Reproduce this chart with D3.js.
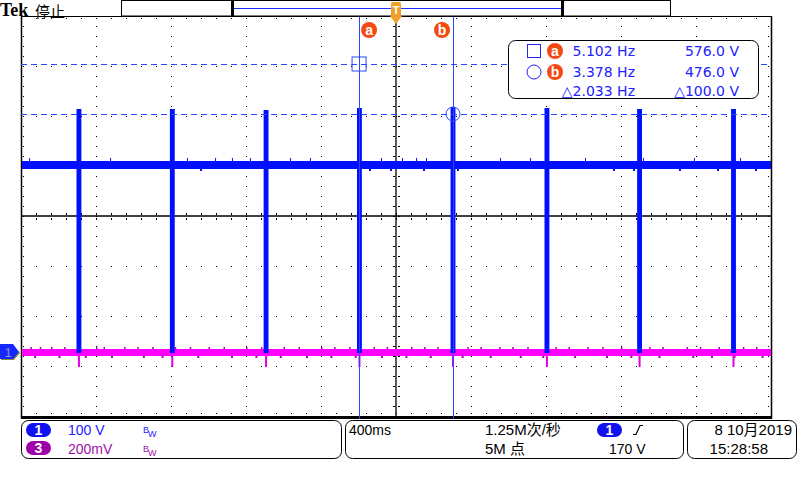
<!DOCTYPE html>
<html><head><meta charset="utf-8">
<script src="https://cdn.jsdelivr.net/npm/d3@7"></script>
<style>html,body{margin:0;padding:0;background:#fff;} svg{display:block;}</style>
</head><body>
<svg id="c" width="800" height="480"></svg>
<script>
// ---------------- DATA (read from the screen) ----------------
// time axis: 400 ms/div, 10 divisions, trigger at centre (s)
const timeDomain = [-2, 2];
// CH1: 100 V/div, ground marker 2.72 div below centre
const ch1Domain = [-128, 672];
// CH3: 200 mV/div, same ground level
const ch3Domain = [-0.256, 1.344];

// CH1 pulse bursts: time (s), top (V)
const spikeTimes = [-1.691, -1.193, -0.693, -0.195, 0.304, 0.805, 1.299, 1.800];
const spikeTops  = [486, 486, 484, 488, 490, 488, 486, 486];
const spikeWidth = 0.026;       // s
const ch1SpikeBottom = -2;      // V
const ch1Band = [366, 382];     // V (noise envelope)
const ch1GlitchUp = [-1.957, -1.525, -1.115, -0.965, -0.875, -0.779, -0.565, -0.459, -0.080, 0.032, 0.107, 0.160, 0.555, 0.715, 1.008, 1.317, 1.589, 1.835];
const ch1GlitchDown = [-1.045, -0.144, -0.032, 0.144, 0.325, 1.157, 1.264, 1.509, 1.712, 1.915];

// CH3 (magenta)
const ch3Band = [-0.016, 0.012];  // V
const ch3SpikeBottom = -0.06;     // V
const ch3GlitchUp = [-1.95,-1.90,-1.84,-1.77,-1.60,-1.56,-1.45,-1.38,-1.30,-1.18,-1.10,-1.00,-0.92,-0.80,-0.72,-0.60,-0.52,-0.40,-0.33,-0.25,-0.12,-0.05,0.08,0.15,0.22,0.38,0.45,0.55,0.62,0.70,0.85,0.92,1.02,1.10,1.20,1.35,1.42,1.55,1.62,1.72,1.85,1.92];
const ch3GlitchDown = [-1.93,-1.80,-1.66,-1.52,-1.35,-1.25,-1.06,-0.88,-0.75,-0.62,-0.48,-0.35,-0.22,-0.08,0.05,0.18,0.35,0.50,0.66,0.78,0.95,1.12,1.25,1.40,1.58,1.68,1.80,1.95];

// cursors
const cursorTimes = [-0.197, 0.304];
const cursorVolts = [576, 476];
const cursorNames = ["a", "b"];
const readFreq = ["5.102 Hz", "3.378 Hz", "\u25B32.033 Hz"];
const readVolt = ["576.0 V", "476.0 V", "\u25B3100.0 V"];

// status texts
const headerTexts = ["Tek", "停止"];
const ch1Label = ["1", "100 V"];
const ch3Label = ["3", "200mV"];
const timeTexts = ["400ms", "1.25M次/秒", "5M 点"];
const trigTexts = ["1", "170 V"];
const dateTexts = ["8 10月2019", "15:28:58"];

// ---------------- DRAW ----------------
const svg = d3.select('#c');
const X0 = 21, X1 = 771, Y0 = 16, Y1 = 416;
const x = d3.scaleLinear().domain(timeDomain).range([X0, X1]);
const gy = d3.scaleLinear().domain([-4, 4]).range([Y1, Y0]);
const gx = d3.scaleLinear().domain([-5, 5]).range([X0, X1]);
const y1 = d3.scaleLinear().domain(ch1Domain).range([Y1, Y0]);
const y3 = d3.scaleLinear().domain(ch3Domain).range([Y1, Y0]);
const SANS = "'Liberation Sans', 'Noto Sans CJK SC', sans-serif";

const grid = svg.append('g');
function dot(px, py) { grid.append('rect').attr('x', Math.round(px)).attr('y', Math.round(py)).attr('width', 1).attr('height', 1).attr('fill', '#000'); }
d3.range(-4, 5).forEach(d => { if (d === 0) return; d3.range(-4, 4.01, 0.2).forEach(v => dot(gx(d), gy(v))); });
d3.range(-3, 4).forEach(v => { if (v === 0) return; d3.range(-5, 5.01, 0.2).forEach(d => dot(gx(d), gy(v))); });
d3.range(-5, 5.01, 0.2).forEach(d => { dot(gx(d), Y0 + 2); dot(gx(d), Y1 - 3); });
d3.range(-4, 4.01, 0.2).forEach(v => { dot(X0 + 2, gy(v)); dot(X1 - 3, gy(v)); });
d3.range(-4, 4.01, 0.2).forEach(v => { dot(gx(0) - 3, gy(v)); dot(gx(0) + 3, gy(v)); dot(gx(0) - 2, gy(v)); dot(gx(0) + 2, gy(v)); });
d3.range(-5, 5.01, 0.2).forEach(d => { dot(gx(d), gy(0) - 3); dot(gx(d), gy(0) + 3); dot(gx(d), gy(0) - 2); dot(gx(d), gy(0) + 2); });
grid.append('line').attr('x1', gx(0)).attr('x2', gx(0)).attr('y1', Y0).attr('y2', Y1).attr('stroke', '#000').attr('stroke-width', 1.3);
grid.append('line').attr('x1', X0).attr('x2', X1).attr('y1', gy(0)).attr('y2', gy(0)).attr('stroke', '#000').attr('stroke-width', 1.3);
grid.append('line').attr('x1', X0).attr('x2', X1).attr('y1', Y0 + 0.5).attr('y2', Y0 + 0.5).attr('stroke', '#000');
grid.append('line').attr('x1', X0 + 0.5).attr('x2', X0 + 0.5).attr('y1', Y0).attr('y2', Y1 + 3).attr('stroke', '#000').attr('stroke-width', 1.5);
grid.append('line').attr('x1', X1 + 0.5).attr('x2', X1 + 0.5).attr('y1', Y0).attr('y2', Y1 + 3).attr('stroke', '#000').attr('stroke-width', 1.5);
grid.append('rect').attr('x', X0).attr('y', Y1).attr('width', X1 - X0 + 1).attr('height', 3).attr('fill', '#000');

// ---- CH3 magenta trace ----
const g3 = svg.append('g');
g3.append('rect').attr('x', X0 + 1).attr('width', X1 - X0 - 1)
  .attr('y', y3(ch3Band[1])).attr('height', y3(ch3Band[0]) - y3(ch3Band[1])).attr('fill', '#ff00ff');
g3.selectAll('.gu').data(ch3GlitchUp).join('rect').attr('x', d => x(d)).attr('width', 1.5)
  .attr('y', y3(ch3Band[1]) - 2).attr('height', 3).attr('fill', '#c000c0');
g3.selectAll('.gd').data(ch3GlitchDown).join('rect').attr('x', d => x(d)).attr('width', 2)
  .attr('y', y3(ch3Band[0]) - 1).attr('height', 3).attr('fill', '#c000c0');
g3.selectAll('.sp').data(spikeTimes).join('rect').attr('x', d => x(d) - 1).attr('width', 2)
  .attr('y', y3(ch3Band[0])).attr('height', y3(ch3SpikeBottom) - y3(ch3Band[0])).attr('fill', '#e000e0');

// ---- CH1 blue trace ----
const BLUE = '#0010ff';
const g1 = svg.append('g');
g1.append('rect').attr('x', X0 + 1).attr('width', X1 - X0 - 1)
  .attr('y', y1(ch1Band[1])).attr('height', y1(ch1Band[0]) - y1(ch1Band[1])).attr('fill', BLUE);
g1.selectAll('.gu').data(ch1GlitchUp).join('rect').attr('x', d => x(d)).attr('width', 1)
  .attr('y', y1(ch1Band[1]) - 3).attr('height', 4).attr('fill', BLUE);
g1.selectAll('.gd').data(ch1GlitchDown).join('rect').attr('x', d => x(d)).attr('width', 2)
  .attr('y', y1(ch1Band[0])).attr('height', 2).attr('fill', BLUE);
g1.selectAll('.sp').data(spikeTimes).join('rect')
  .attr('x', d => x(d - spikeWidth / 2)).attr('width', x(spikeWidth) - x(0))
  .attr('y', (d, i) => y1(spikeTops[i])).attr('height', (d, i) => y1(ch1SpikeBottom) - y1(spikeTops[i]))
  .attr('fill', BLUE);

// ---- cursors ----
const CUR = '#2a46ff';
const gc = svg.append('g');
cursorTimes.forEach(t => {
  gc.append('line').attr('x1', Math.round(x(t)) + 0.5).attr('x2', Math.round(x(t)) + 0.5).attr('y1', Y0).attr('y2', Y1).attr('stroke', CUR);
  gc.append('line').attr('x1', Math.round(x(t)) + 0.5).attr('x2', Math.round(x(t)) + 0.5).attr('y1', Y1).attr('y2', Y1 + 3).attr('stroke', CUR);
});
cursorVolts.forEach(v => {
  gc.append('line').attr('x1', X0).attr('x2', X1).attr('y1', Math.round(y1(v)) + 0.5).attr('y2', Math.round(y1(v)) + 0.5)
    .attr('stroke', CUR).attr('stroke-dasharray', '6,4');
});
gc.append('rect').attr('x', x(cursorTimes[0]) - 7).attr('y', y1(cursorVolts[0]) - 7).attr('width', 14).attr('height', 14)
  .attr('fill', 'none').attr('stroke', CUR);
gc.append('circle').attr('cx', x(cursorTimes[1])).attr('cy', y1(cursorVolts[1])).attr('r', 7)
  .attr('fill', 'none').attr('stroke', CUR);

const ORANGE = '#f24a12';
function badge(cx, cy, txt) {
  svg.append('circle').attr('cx', cx).attr('cy', cy).attr('r', 8).attr('fill', ORANGE);
  svg.append('text').attr('x', cx).attr('y', cy + 4.5).attr('text-anchor', 'middle').attr('fill', '#fff')
    .attr('font-family', SANS).attr('font-weight', 'bold').attr('font-size', 14).text(txt);
}
badge(x(cursorTimes[0]) + 10, 30, cursorNames[0]);
badge(x(cursorTimes[1]) - 11, 30, cursorNames[1]);

// ---- readout box ----
const rb = svg.append('g');
rb.append('rect').attr('x', 508.5).attr('y', 40.5).attr('width', 250).attr('height', 58).attr('rx', 7)
  .attr('fill', '#fff').attr('stroke', '#000');
const RBLUE = '#2222ff';
rb.append('rect').attr('x', 527.5).attr('y', 44.5).attr('width', 13).attr('height', 13).attr('fill', 'none').attr('stroke', RBLUE);
rb.append('circle').attr('cx', 534).attr('cy', 72).attr('r', 7).attr('fill', 'none').attr('stroke', RBLUE);
[51, 72].forEach((cy, i) => {
  rb.append('circle').attr('cx', 555).attr('cy', cy).attr('r', 8).attr('fill', ORANGE);
  rb.append('text').attr('x', 555).attr('y', cy + 4.5).attr('text-anchor', 'middle').attr('fill', '#fff')
    .attr('font-family', SANS).attr('font-weight', 'bold').attr('font-size', 14).text(cursorNames[i]);
});
const rowBase = [56, 77, 96];
readFreq.forEach((s, i) => rb.append('text').attr('x', 635).attr('y', rowBase[i]).attr('text-anchor', 'end')
  .attr('fill', RBLUE).attr('font-family', "'DejaVu Sans', sans-serif").attr('font-size', 14).text(s));
readVolt.forEach((s, i) => rb.append('text').attr('x', 739).attr('y', rowBase[i]).attr('text-anchor', 'end')
  .attr('fill', RBLUE).attr('font-family', "'DejaVu Sans', sans-serif").attr('font-size', 14).text(s));

// ---- top bar ----
const tb = svg.append('g');
tb.append('rect').attr('x', 121.5).attr('y', 0.5).attr('width', 549).attr('height', 15.5).attr('fill', '#fff').attr('stroke', '#000');
tb.append('rect').attr('x', 232.5).attr('y', 0.5).attr('width', 330).attr('height', 15.5).attr('fill', '#fff').attr('stroke', '#000');
tb.append('rect').attr('x', 231).attr('y', 0).attr('width', 3).attr('height', 17).attr('fill', '#000');
tb.append('rect').attr('x', 561).attr('y', 0).attr('width', 3).attr('height', 17).attr('fill', '#000');
tb.append('line').attr('x1', 234).attr('x2', 561).attr('y1', 8.5).attr('y2', 8.5).attr('stroke', '#1a2cff');
const TOR = '#f0a028';
tb.append('rect').attr('x', x(0) - 5).attr('y', 2).attr('width', 10).attr('height', 15).attr('rx', 2).attr('fill', TOR);
tb.append('path').attr('d', `M${x(0) - 6},16 L${x(0) + 6},16 L${x(0)},24 Z`).attr('fill', TOR);
tb.append('text').attr('x', x(0)).attr('y', 14).attr('text-anchor', 'middle').attr('fill', '#fff')
  .attr('font-family', SANS).attr('font-weight', 'bold').attr('font-size', 11).text('T');

svg.append('text').attr('x', 0).attr('y', 16).attr('font-family', "'Liberation Serif', serif").attr('font-weight', 'bold')
  .attr('font-size', 18).attr('fill', '#000').text(headerTexts[0]);
svg.append('text').attr('x', 35).attr('y', 17).attr('font-family', "'Noto Sans CJK SC', sans-serif")
  .attr('font-size', 15).attr('fill', '#000').text(headerTexts[1]);

// ---- CH1 ground marker ----
const mk = svg.append('g');
const gyv = y1(0);
mk.append('path').attr('d', `M1,${gyv - 6} L14,${gyv - 6} L20,${gyv + 1} L14,${gyv + 8} L1,${gyv + 8} Z`).attr('fill', '#8c8c3c');
mk.append('path').attr('d', `M0,${gyv - 8} L13,${gyv - 8} L19,${gyv} L13,${gyv + 7} L0,${gyv + 7} Z`).attr('fill', '#1428ff');
mk.append('text').attr('x', 8).attr('y', gyv + 5).attr('text-anchor', 'middle').attr('fill', '#8c94d8')
  .attr('font-family', SANS).attr('font-size', 13).text('1');

// ---- bottom status panels ----
const bp = svg.append('g').attr('font-family', SANS);
function panel(x0, w) { bp.append('rect').attr('x', x0 + 0.5).attr('y', 420.5).attr('width', w).attr('height', 38).attr('rx', 7).attr('fill', '#fff').attr('stroke', '#000'); }
panel(21, 320); panel(345, 338); panel(687, 109);
function pill(x0, y0, fill, txt) {
  bp.append('rect').attr('x', x0).attr('y', y0).attr('width', 25).attr('height', 14).attr('rx', 7).attr('fill', fill);
  bp.append('text').attr('x', x0 + 12.5).attr('y', y0 + 12).attr('text-anchor', 'middle').attr('fill', '#fff')
    .attr('font-weight', 'bold').attr('font-size', 14).text(txt);
}
function bw(x0, y0, col) {
  bp.append('text').attr('x', x0).attr('y', y0).attr('fill', col).attr('font-size', 9).text('B');
  bp.append('text').attr('x', x0 + 5).attr('y', y0 + 4).attr('fill', col).attr('font-size', 9).text('W');
}
pill(26, 423, '#1010f0', ch1Label[0]);
bp.append('text').attr('x', 68).attr('y', 435).attr('fill', '#2020ff').attr('font-size', 14).text(ch1Label[1]);
bw(143, 433, '#2020ff');
pill(26, 441, '#a000a8', ch3Label[0]);
bp.append('text').attr('x', 68).attr('y', 454).attr('fill', '#a010a8').attr('font-size', 14).text(ch3Label[1]);
bw(143, 452, '#a010a8');

bp.append('text').attr('x', 349).attr('y', 435).attr('fill', '#000').attr('font-size', 14).text(timeTexts[0]);
bp.append('text').attr('x', 485).attr('y', 435).attr('fill', '#000').attr('font-size', 15).text(timeTexts[1]);
bp.append('text').attr('x', 485).attr('y', 454).attr('fill', '#000').attr('font-size', 15).text(timeTexts[2]);
pill(597, 423, '#1010f0', trigTexts[0]);
bp.append('path').attr('d', 'M633,434.5 L636,434.5 L640,425.5 L643,425.5').attr('fill', 'none').attr('stroke', '#000').attr('stroke-width', 1.2);
bp.append('text').attr('x', 609).attr('y', 454).attr('fill', '#000').attr('font-size', 14).text(trigTexts[1]);

bp.append('text').attr('x', 792).attr('y', 435).attr('text-anchor', 'end').attr('fill', '#000').attr('font-size', 15).text(dateTexts[0]);
bp.append('text').attr('x', 768).attr('y', 454).attr('text-anchor', 'end').attr('fill', '#000').attr('font-size', 15).text(dateTexts[1]);
</script>
</body></html>
